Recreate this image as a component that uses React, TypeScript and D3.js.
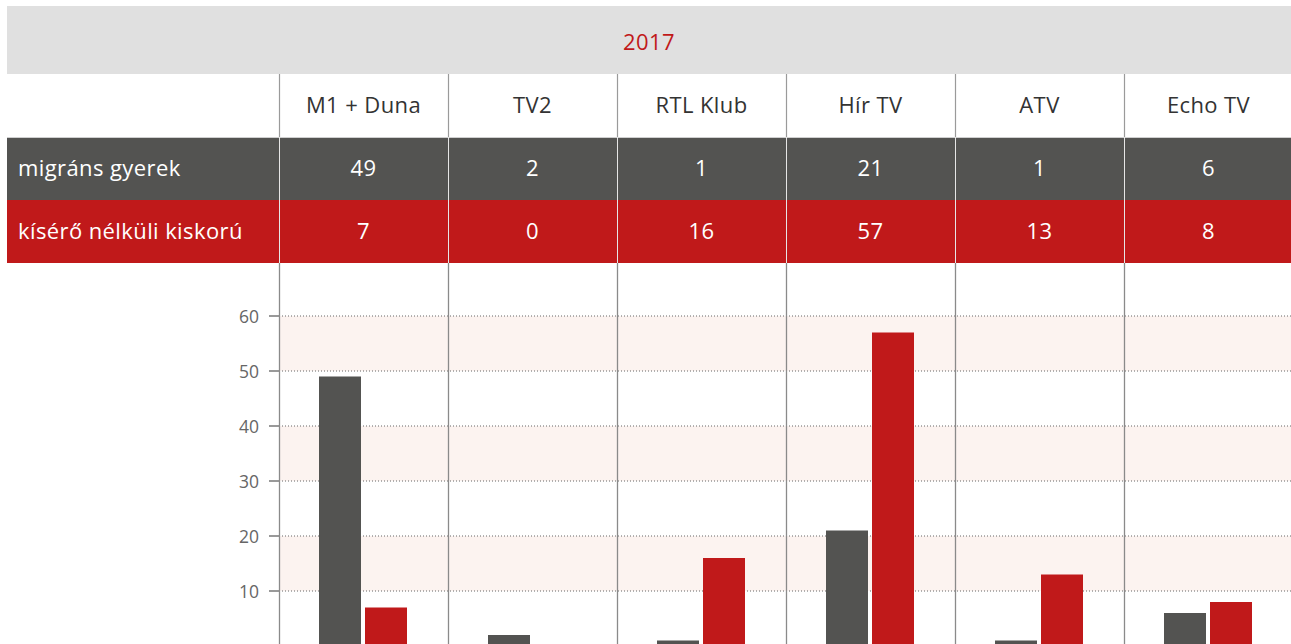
import React from "react";
import * as d3 from "d3";

const title = "2017";
const channels = ["M1 + Duna", "TV2", "RTL Klub", "Hír TV", "ATV", "Echo TV"];
const seriesNames = ["migráns gyerek", "kísérő nélküli kiskorú"];
const migransGyerek = [49, 2, 1, 21, 1, 6];
const kisero = [7, 0, 16, 57, 13, 8];
const yTicks = [10, 20, 30, 40, 50, 60];
const bandPairs = [[50, 60], [30, 40], [10, 20]];

const W = 1291;
const H = 644;
const GRAY = "#535351";
const RED = "#c0191a";
const FONT = "'Open Sans', Lato, sans-serif";
const FS = 22;
const LS = 0.4;

export default function App() {
  const x0 = d3.scaleBand<string>().domain(channels).range([279, 279 + 169 * 6]).padding(0);
  const x1 = d3.scaleBand<string>().domain(["g", "k"]).range([40, 128]).paddingInner(0.087).paddingOuter(0);
  const y = d3.scaleLinear().domain([0, 60]).range([646, 316]);
  const series = [
    { key: "g", values: migransGyerek, color: GRAY },
    { key: "k", values: kisero, color: RED },
  ];
  const left = 279;
  const right = W;

  return (
    <div style={{ position: "fixed", left: 0, top: 0, width: W, height: H, background: "#fff" }}>
      <svg width={W} height={H} style={{ display: "block" }} fontFamily={FONT}>
        {/* title bar */}
        <rect x={7} y={6} width={W - 7} height={68} fill="#e0e0e0" />
        <text x={649} y={41} textAnchor="middle" dominantBaseline="central" fill={RED} fontSize={FS} letterSpacing={LS}>
          {title}
        </text>
        {/* rows */}
        <rect x={7} y={137} width={W - 7} height={63} fill={GRAY} />
        <rect x={7} y={200} width={W - 7} height={63} fill={RED} />
        <line x1={7} x2={W} y1={137.5} y2={137.5} stroke="#cfcfcf" strokeWidth={1} />
        <text x={18} y={167} dominantBaseline="central" fill="#fff" fontSize={FS} letterSpacing={LS}>
          {seriesNames[0]}
        </text>
        <text x={18} y={230} dominantBaseline="central" fill="#fff" fontSize={FS} letterSpacing={LS}>
          {seriesNames[1]}
        </text>
        {channels.map((c, i) => {
          const cx = (x0(c) as number) + x0.bandwidth() / 2;
          return (
            <g key={c} letterSpacing={LS}>
              <text x={cx} y={104} textAnchor="middle" dominantBaseline="central" fill="#333" fontSize={FS}>
                {c}
              </text>
              <text x={cx} y={167} textAnchor="middle" dominantBaseline="central" fill="#fff" fontSize={FS}>
                {migransGyerek[i]}
              </text>
              <text x={cx} y={230} textAnchor="middle" dominantBaseline="central" fill="#fff" fontSize={FS}>
                {kisero[i]}
              </text>
            </g>
          );
        })}
        {/* pink bands */}
        {bandPairs.map(([a, b]) => (
          <rect key={a} x={left} y={y(b)} width={right - left} height={y(a) - y(b)} fill="#fcf3f0" />
        ))}
        {/* gridlines */}
        {yTicks.map((t) => (
          <g key={t}>
            <line x1={left} x2={right} y1={y(t)} y2={y(t)} stroke="#666" strokeWidth={1} strokeDasharray="1,2" />
            <line x1={269} x2={left} y1={y(t)} y2={y(t)} stroke="#777" strokeWidth={1.5} />
            <text x={259} y={y(t)} textAnchor="end" dominantBaseline="central" fill="#666" fontSize={17.5}>
              {t}
            </text>
          </g>
        ))}
        {/* bars */}
        {channels.map((c, i) =>
          series.map((s) => {
            const bx = (x0(c) as number) + (x1(s.key) as number);
            const v = s.values[i];
            return (
              <rect key={c + s.key} x={bx} y={y(v)} width={x1.bandwidth()} height={y(0) - y(v)} fill={s.color} />
            );
          })
        )}
        {/* column separators */}
        {channels.map((c) => {
          const lx = (x0(c) as number) + 0.5;
          return (
            <g key={"sep" + c}>
              <line x1={lx} x2={lx} y1={74} y2={137} stroke="#9a9a9a" strokeWidth={1.2} />
              <line x1={lx} x2={lx} y1={137} y2={263} stroke="#e6e6e6" strokeWidth={1} />
              <line x1={lx} x2={lx} y1={263} y2={H} stroke="#8a8a8a" strokeWidth={1.3} />
            </g>
          );
        })}
      </svg>
    </div>
  );
}
